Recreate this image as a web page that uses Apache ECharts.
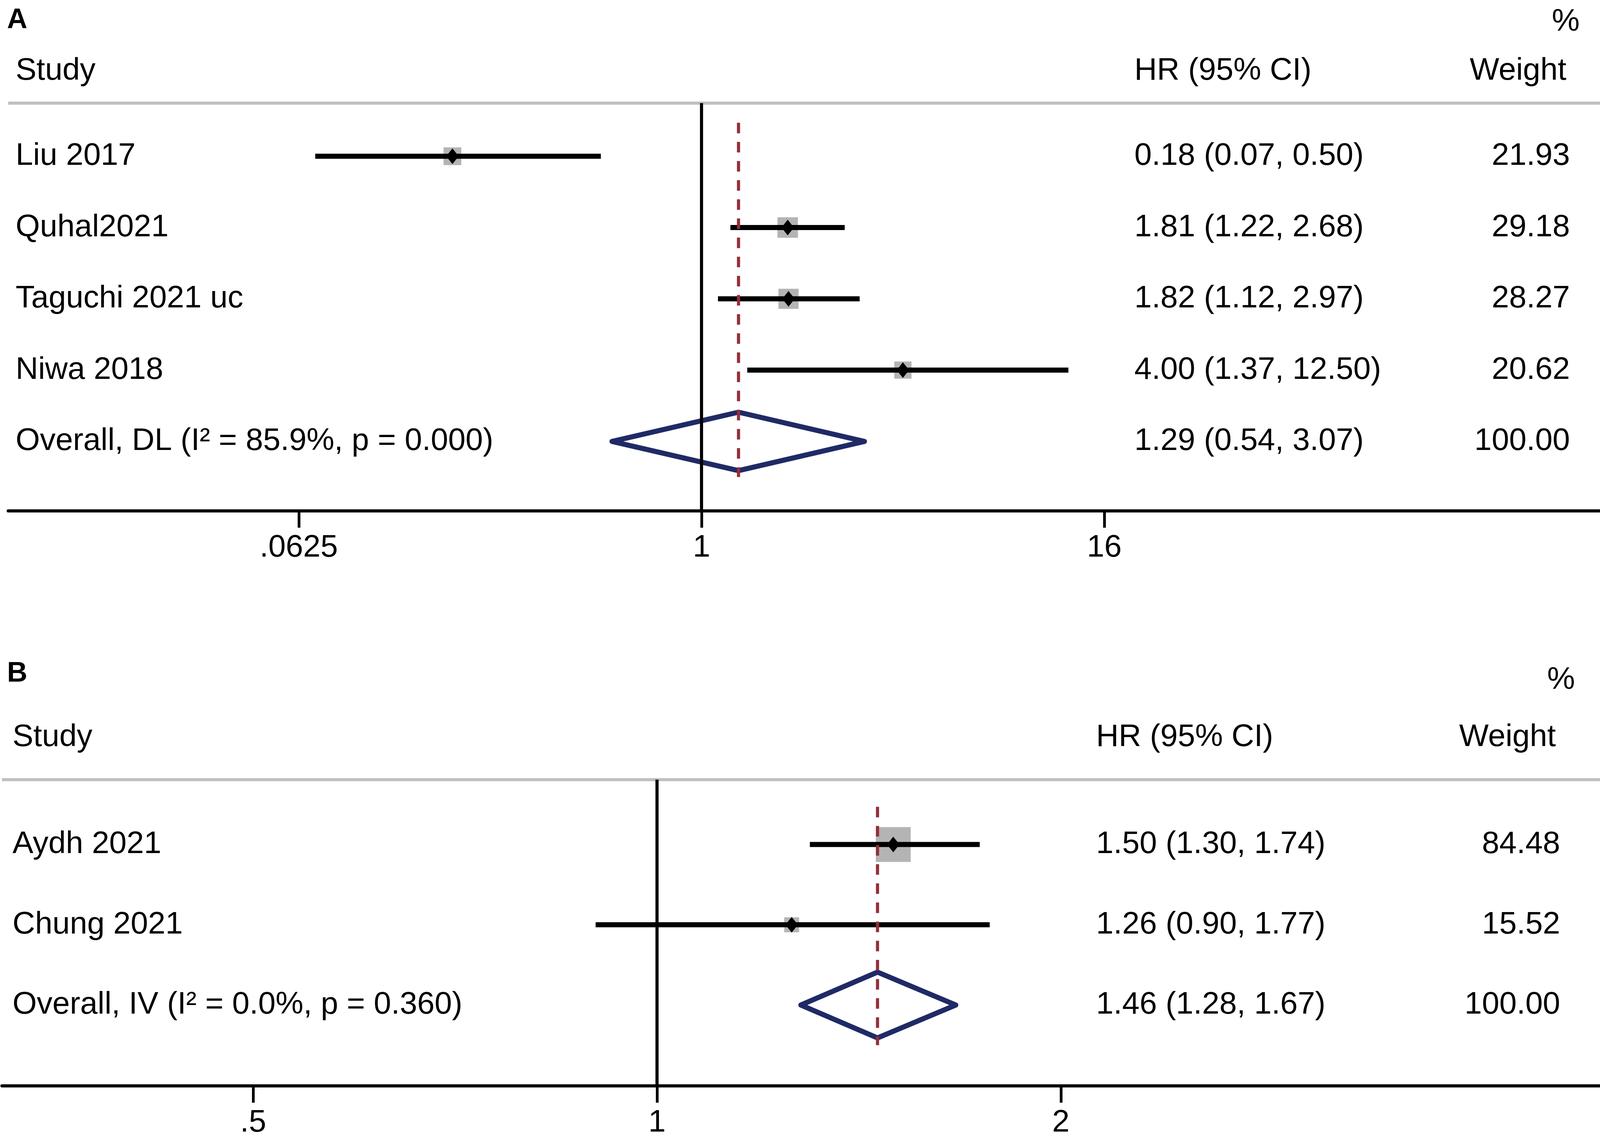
<!DOCTYPE html>
<html>
<head>
<meta charset="utf-8">
<script src="https://cdn.jsdelivr.net/npm/echarts@6/dist/echarts.min.js"></script>
<style>
html, body { margin: 0; padding: 0; background: #fff; }
#chart { width: 4159px; height: 2916px; }
</style>
</head>
<body>
<div id="chart"></div>
<script>
// panel A
var studiesA = ['Liu 2017', 'Quhal2021', 'Taguchi 2021 uc', 'Niwa 2018'];
var hrA = [0.18, 1.81, 1.82, 4.00];
var lowA = [0.07, 1.22, 1.12, 1.37];
var highA = [0.50, 2.68, 2.97, 12.50];
var weightA = [21.93, 29.18, 28.27, 20.62];
var overallLabelA = 'Overall, DL (I² = 85.9%, p = 0.000)';
var overallA = [1.29, 0.54, 3.07, 100.00];   // HR, low, high, weight
var tickValuesA = [0.0625, 1, 16];
var tickLabelsA = ['.0625', '1', '16'];

// panel B
var studiesB = ['Aydh 2021', 'Chung 2021'];
var hrB = [1.50, 1.26];
var lowB = [1.30, 0.90];
var highB = [1.74, 1.77];
var weightB = [84.48, 15.52];
var overallLabelB = 'Overall, IV (I² = 0.0%, p = 0.360)';
var overallB = [1.46, 1.28, 1.67, 100.00];
var tickValuesB = [0.5, 1, 2];
var tickLabelsB = ['.5', '1', '2'];

var headers = ['Study', 'HR (95% CI)', 'Weight', '%'];

var FONT = '"Liberation Sans", Arial, sans-serif';
var FS = 80;

// layout of both panels (pixels / log2 units)
var panels = [
    {
        names: studiesA.concat([overallLabelA]),
        hr: hrA.concat([overallA[0]]), low: lowA.concat([overallA[1]]),
        high: highA.concat([overallA[2]]), weight: weightA.concat([overallA[3]]),
        ticks: tickValuesA, tickText: tickLabelsA,
        grid: {left: 21, top: 264, width: 4122, height: 1044},
        xMin: -6.886, xMax: 9.106, yMin: -0.745, yMax: 4.975,
        studyX: 40, hrX: 2904, wX: 4019,
        letter: 'A', letterY: 52, headY: 182, pctY: 57, headStudyX: 40, headWX: 4010, pctX: 4044
    },
    {
        names: studiesB.concat([overallLabelB]),
        hr: hrB.concat([overallB[0]]), low: lowB.concat([overallB[1]]),
        high: highB.concat([overallB[2]]), weight: weightB.concat([overallB[3]]),
        ticks: tickValuesB, tickText: tickLabelsB,
        grid: {left: 5, top: 1996, width: 4150, height: 784},
        xMin: -1.622, xMax: 2.392, yMin: -0.808, yMax: 3.007,
        studyX: 32, hrX: 2806, wX: 3994,
        letter: 'B', letterY: 1725, headY: 1888, pctY: 1742, headStudyX: 32, headWX: 3983, pctX: 4032
    }
];

function txt(x, y, s, align) {
    return {
        type: 'text', x: x, y: y,
        style: {text: s, fill: '#000', fontSize: FS, fontFamily: FONT, align: align || 'left', verticalAlign: 'middle'}
    };
}

function ciText(h, l, u) {
    return h.toFixed(2) + ' (' + l.toFixed(2) + ', ' + u.toFixed(2) + ')';
}

function rowRenderer(p) {
    return function (params, api) {
        var i = params.dataIndex;
        var row = api.value(4);
        var c = api.coord([api.value(0), row]);
        var a = api.coord([api.value(1), row]);
        var b = api.coord([api.value(2), row]);
        var step = api.coord([api.value(0), row + 1])[1] - c[1];
        var kids = [];
        if (i < p.names.length - 1) {
            var s = 9.7 * Math.sqrt(api.value(3));
            kids.push({type: 'rect', shape: {x: c[0] - s / 2, y: c[1] - s / 2, width: s, height: s},
                style: {fill: '#b4b4b4'}});
            kids.push({type: 'line', shape: {x1: a[0], y1: a[1], x2: b[0], y2: b[1]},
                style: {stroke: '#000', lineWidth: 13}});
            kids.push({type: 'polygon',
                shape: {points: [[c[0] - 16, c[1]], [c[0], c[1] - 20], [c[0] + 16, c[1]], [c[0], c[1] + 20]]},
                style: {fill: '#000'}});
        } else {
            var h = step * 0.41;
            kids.push({type: 'polygon',
                shape: {points: [a, [c[0], c[1] - h], b, [c[0], c[1] + h]]},
                style: {fill: 'none', stroke: '#1f2a66', lineWidth: 13, lineJoin: 'round'}});
        }
        kids.push(txt(p.studyX, c[1], p.names[i]));
        kids.push(txt(p.hrX, c[1], ciText(p.hr[i], p.low[i], p.high[i])));
        kids.push(txt(p.wX, c[1], p.weight[i].toFixed(2), 'right'));
        return {type: 'group', children: kids};
    };
}

function frameRenderer(p) {
    return function (params, api) {
        var cs = params.coordSys;
        var nullX = api.coord([0, 0])[0];
        var ov = api.coord([api.value(0), -0.47]);
        var ovEnd = api.coord([api.value(0), p.names.length - 0.5]);
        return {
            type: 'group',
            children: [
                {type: 'line', shape: {x1: cs.x, y1: cs.y, x2: cs.x + cs.width, y2: cs.y},
                    style: {stroke: '#c0c0c0', lineWidth: 8}},
                {type: 'line', shape: {x1: nullX, y1: cs.y, x2: nullX, y2: cs.y + cs.height},
                    style: {stroke: '#000', lineWidth: 8}},
                {type: 'line', shape: {x1: ov[0], y1: ov[1], x2: ovEnd[0], y2: ovEnd[1]},
                    style: {stroke: '#952d3a', lineWidth: 8, lineDash: [27, 22]}}
            ]
        };
    };
}

var myChart = echarts.init(document.getElementById('chart'));

var option = {
    backgroundColor: '#fff',
    animation: false,
    grid: [], xAxis: [], yAxis: [], series: [], graphic: []
};

panels.forEach(function (p, k) {
    option.grid.push(p.grid);
    var tv = p.ticks.map(function (t) { return Math.log2(t); });
    option.xAxis.push({
        type: 'value', gridIndex: k, min: p.xMin, max: p.xMax,
        splitLine: {show: false},
        axisLine: {show: true, onZero: false, lineStyle: {color: '#000', width: 8}},
        axisTick: {show: true, customValues: tv, length: 43, lineStyle: {color: '#000', width: 7}},
        axisLabel: {
            show: true, customValues: tv, margin: 55, color: '#000', fontSize: FS, fontFamily: FONT,
            formatter: function (v) {
                for (var j = 0; j < tv.length; j++) {
                    if (Math.abs(tv[j] - v) < 1e-6) return p.tickText[j];
                }
                return '';
            }
        }
    });
    option.yAxis.push({type: 'value', gridIndex: k, inverse: true, min: p.yMin, max: p.yMax, show: false});

    var rows = p.names.map(function (n, i) {
        return [Math.log2(p.hr[i]), Math.log2(p.low[i]), Math.log2(p.high[i]), p.weight[i], i];
    });
    option.series.push({
        type: 'custom', xAxisIndex: k, yAxisIndex: k, renderItem: rowRenderer(p), data: rows, z: 2
    });
    var last = p.names.length - 1;
    option.series.push({
        type: 'custom', xAxisIndex: k, yAxisIndex: k, renderItem: frameRenderer(p),
        data: [[Math.log2(p.hr[last]), last]], z: 3
    });

    option.graphic.push({type: 'text', x: 18, y: p.letterY,
        style: {text: p.letter, fill: '#000', fontSize: 72, fontWeight: 'bold', fontFamily: FONT, verticalAlign: 'middle'}});
    option.graphic.push(txt(p.headStudyX, p.headY, headers[0]));
    option.graphic.push(txt(p.hrX, p.headY, headers[1]));
    option.graphic.push(txt(p.headWX, p.headY, headers[2], 'right'));
    option.graphic.push(txt(p.pctX, p.pctY, headers[3], 'right'));
});

myChart.setOption(option);
</script>
</body>
</html>
